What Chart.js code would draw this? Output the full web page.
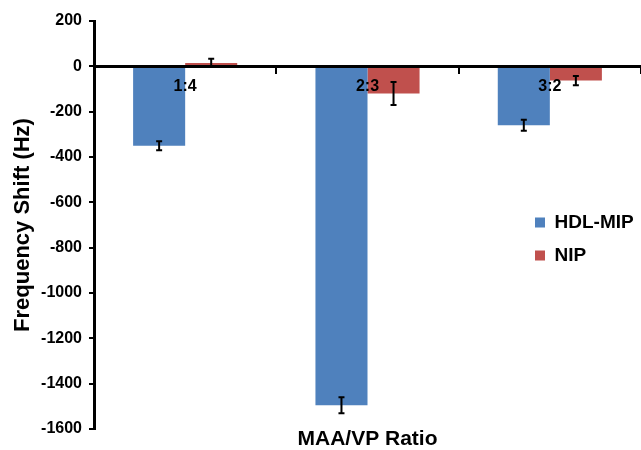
<!DOCTYPE html>
<html>
<head>
<meta charset="utf-8">
<script src="https://cdn.jsdelivr.net/npm/chart.js@4.4.1/dist/chart.umd.min.js"></script>
<style>
  body { margin: 0; background: #fff; }
  #wrap { width: 641px; height: 450px; }
</style>
</head>
<body>
<div id="wrap"><canvas id="chart" width="641" height="450"></canvas></div>
<script>
// datos
const categorias = ['1:4', '2:3', '3:2'];
const hdlMip = [-350, -1495, -260];
const hdlMipErr = [20, 35, 24];
const nip = [15, -120, -63];
const nipErr = [18, 51, 20];
const yMin = -1600;
const yMax = 200;
const yPaso = 200;

Chart.defaults.font.family = 'Arial, "Liberation Sans", sans-serif';
Chart.defaults.color = '#000';

// barras de error dibujadas con las escalas del chart
const barrasError = {
    id: 'barrasError',
    afterDatasetsDraw(chart) {
        const ctx = chart.ctx;
        const escalaY = chart.scales.y;
        chart.data.datasets.forEach(function(ds, i) {
            const meta = chart.getDatasetMeta(i);
            meta.data.forEach(function(bar, j) {
                const v = ds.data[j];
                const e = ds.errores[j];
                const arriba = escalaY.getPixelForValue(v + e);
                const abajo = escalaY.getPixelForValue(v - e);
                ctx.save();
                ctx.strokeStyle = '#000';
                ctx.lineWidth = 2;
                ctx.beginPath();
                ctx.moveTo(bar.x, arriba);
                ctx.lineTo(bar.x, abajo);
                ctx.moveTo(bar.x - 3, arriba);
                ctx.lineTo(bar.x + 3, arriba);
                ctx.moveTo(bar.x - 3, abajo);
                ctx.lineTo(bar.x + 3, abajo);
                ctx.stroke();
                ctx.restore();
            });
        });
    }
};

// mover la leyenda a la derecha, dentro del area del grafico
const moverLeyenda = {
    id: 'moverLeyenda',
    afterLayout(chart) {
        const lg = chart.legend;
        if (!lg) return;
        lg.left = 521;
        lg.right = lg.left + lg.width;
        lg.top = 199;
        lg.bottom = lg.top + lg.height;
    }
};

new Chart(document.getElementById('chart').getContext('2d'), {
    type: 'bar',
    data: {
        labels: categorias,
        datasets: [{
            label: 'HDL-MIP',
            data: hdlMip,
            errores: hdlMipErr,
            backgroundColor: '#4F81BD'
        }, {
            label: 'NIP',
            data: nip,
            errores: nipErr,
            backgroundColor: '#C0504D'
        }]
    },
    options: {
        responsive: false,
        animation: false,
        layout: { padding: { top: 21, left: 0, right: 0, bottom: 0 } },
        datasets: {
            bar: { categoryPercentage: 0.571, barPercentage: 1.0 }
        },
        scales: {
            x: {
                position: { y: 0 },
                offset: true,
                border: { color: '#000', width: 3, z: 1 },
                grid: { drawOnChartArea: false, offset: true, color: '#000', lineWidth: 2, tickLength: 6, z: 1 },
                ticks: { color: '#000', padding: 5, maxRotation: 0, z: 1, font: { size: 16, weight: 'bold' } }
            },
            y: {
                min: yMin,
                max: yMax,
                border: { color: '#000', width: 3 },
                grid: { drawOnChartArea: false, color: '#000', lineWidth: 2, tickLength: 5 },
                ticks: {
                    stepSize: yPaso,
                    color: '#000',
                    padding: 7,
                    font: { size: 16, weight: 'bold' },
                    callback: function(v) { return String(v); }
                },
                title: {
                    display: true,
                    text: 'Frequency Shift (Hz)',
                    color: '#000',
                    padding: { top: 10, bottom: 0 },
                    font: { size: 22, weight: 'bold' }
                },
                afterFit: function(scale) { scale.width = 94; }
            }
        },
        plugins: {
            legend: {
                position: 'chartArea',
                align: 'start',
                labels: {
                    color: '#000',
                    boxWidth: 10,
                    boxHeight: 10,
                    padding: 14,
                    font: { size: 19, weight: 'bold' }
                }
            },
            title: {
                display: true,
                position: 'bottom',
                fullSize: false,
                text: 'MAA/VP Ratio',
                color: '#000',
                padding: 0,
                font: { size: 21, weight: 'bold', lineHeight: 1 }
            },
            tooltip: { enabled: false }
        }
    },
    plugins: [barrasError, moverLeyenda]
});
</script>
</body>
</html>
